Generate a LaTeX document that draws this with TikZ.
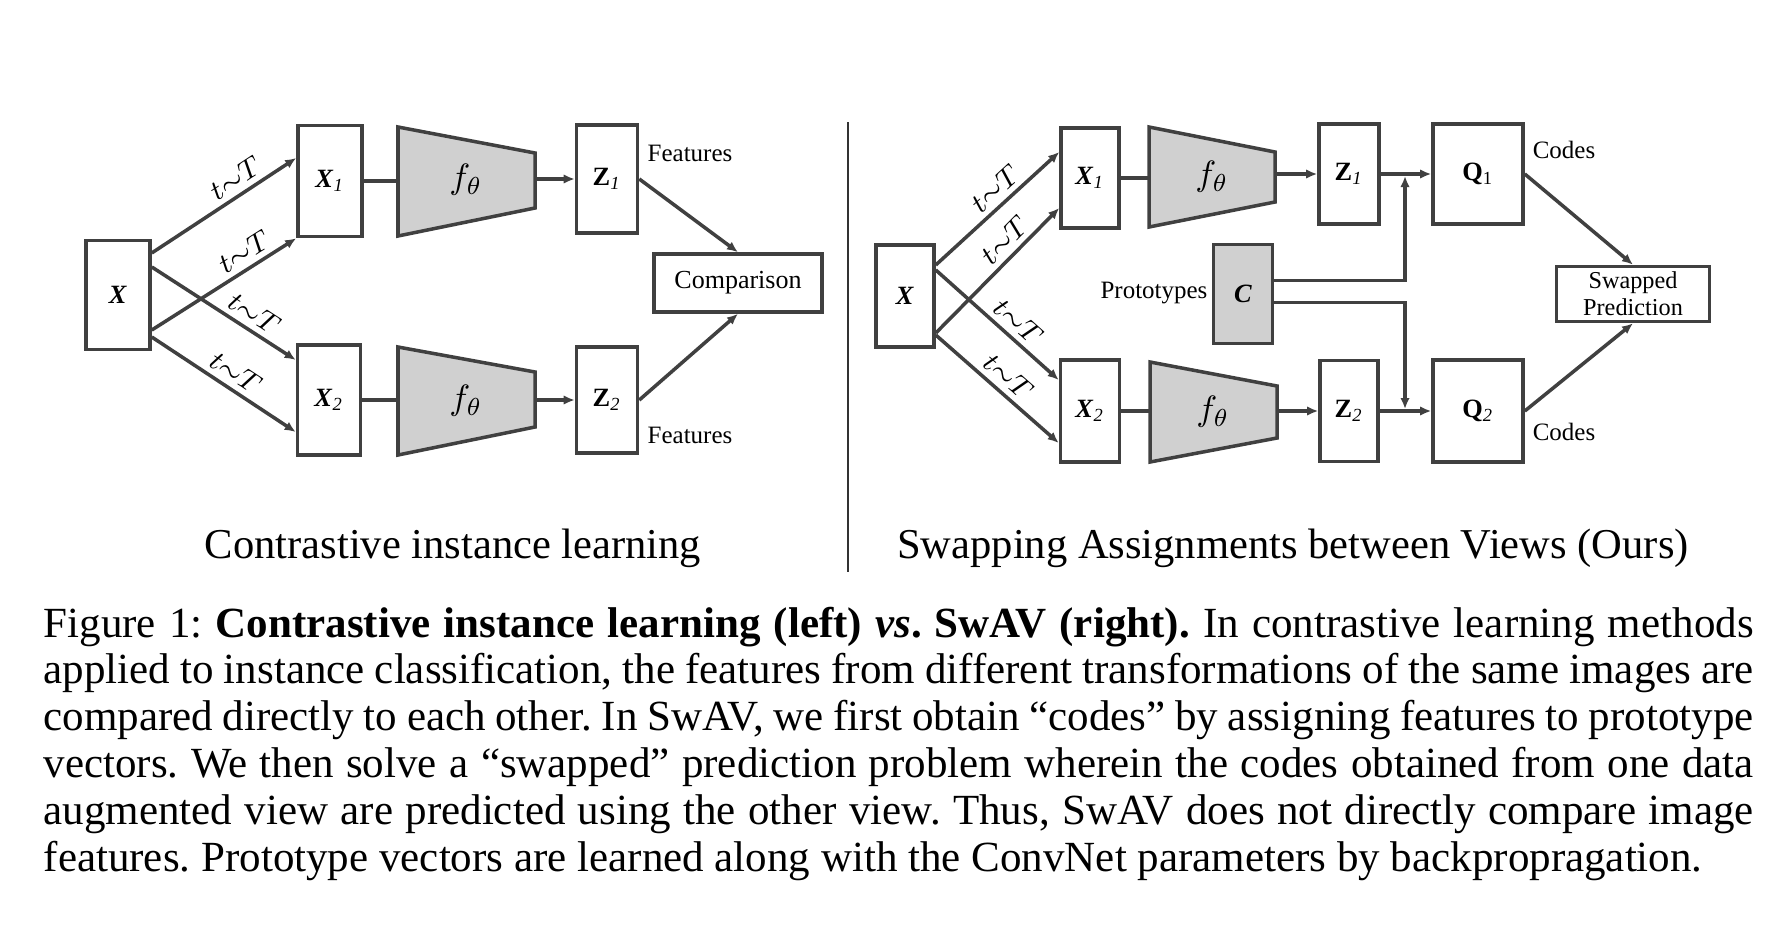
\documentclass[tikz,border=0pt]{standalone}
\usepackage{fontspec}
\setmainfont{Liberation Serif}
\usetikzlibrary{arrows.meta}
\definecolor{linegray}{HTML}{404040}
\definecolor{encgray}{HTML}{D0D0D0}
\newcommand{\bx}[2]{\textbf{\textit{#1}}\textsubscript{\textit{#2}}}
\newcommand{\bz}[2]{\textbf{#1}\textsubscript{\textit{#2}}}
\newcommand{\capline}[1]{\makebox[17.09cm][s]{#1}}
\frenchspacing

\begin{document}
\begin{tikzpicture}
        [
            x=0.01cm, y=-0.01cm,
            box/.style = {draw=linegray, line width=1pt, inner sep=0pt, fill=white, font=\fontsize{7.5}{9}\selectfont},
            enc/.style = {draw=linegray, line width=1pt, fill=encgray},
            lbl/.style = {font=\fontsize{7.1}{8.5}\selectfont, inner sep=0pt},
            trf/.style = {font=\fontsize{8}{9}\selectfont, sloped, above, inner sep=1.5pt},
            arr/.style = {draw=linegray, line width=1pt, -{Latex[length=1.1mm, width=0.95mm]}},
            con/.style = {draw=linegray, line width=1pt},
            title/.style = {font=\fontsize{12.1}{14}\selectfont, anchor=base, inner sep=0pt},
        ]
        \useasboundingbox (0,0) rectangle (1776,942);
        \node [box, minimum width=0.64cm, minimum height=1.09cm] (x) at (118,295) {\textbf{\textit{X}}};
        \node [box, minimum width=0.64cm, minimum height=1.11cm] (x1) at (330,181) {\bx{X}{1}};
        \node [box, minimum width=0.63cm, minimum height=1.10cm] (x2) at (329,400) {\bx{X}{2}};
        \draw [enc] (398,127) -- (535,153) -- (535,208) -- (398,236) -- cycle;
        \draw [enc] (398,347) -- (535,372) -- (535,427) -- (398,455) -- cycle;
        \node [minimum width=1.37cm, minimum height=1.09cm, inner sep=0pt, font=\fontsize{10}{12}\selectfont] (f1) at (466,180) {$f_\theta$};
        \node [minimum width=1.37cm, minimum height=1.08cm, inner sep=0pt, font=\fontsize{10}{12}\selectfont] (f2) at (466,401) {$f_\theta$};
        \node [box, minimum width=0.61cm, minimum height=1.08cm] (z1) at (607,179) {\bz{Z}{1}};
        \node [box, minimum width=0.61cm, minimum height=1.06cm] (z2) at (607,400) {\bz{Z}{2}};
        \node [box, minimum width=1.68cm, minimum height=0.58cm, font=\fontsize{7.4}{9}\selectfont] (comp) at (738,283) {Comparison};
        \node [lbl] (feat1) at (690,153) {Features};
        \node [lbl] (feat2) at (690,435) {Features};
        \draw [arr] ([yshift=4.2mm]x.east) -- node [trf, pos=0.64] {$t{\sim}T$} ([yshift=2.3mm]x1.west);
        \draw [arr] ([yshift=-3.5mm]x.east) -- node [trf, pos=0.7] {$t{\sim}T$} (x1.south west);
        \draw [arr] ([yshift=2.8mm]x.east) -- node [trf, pos=0.65] {$t{\sim}T$} ([yshift=4mm]x2.west);
        \draw [arr] ([yshift=-4.2mm]x.east) -- node [trf, pos=0.52] {$t{\sim}T$} ([yshift=-3.2mm]x2.west);
        \draw [con] (x1) -- (x1 -| f1.west);
        \draw [con] (x2) -- (x2 -| f2.west);
        \draw [arr] (f1.east |- z1) -- (z1);
        \draw [arr] (f2.east |- z2) -- (z2);
        \draw [arr] (z1.east) -- (comp.north);
        \draw [arr] (z2.east) -- (comp.south);
        \draw [black!80, line width=0.4pt] (848,122) -- (848,572);
        \node [box, minimum width=0.58cm, minimum height=1.02cm] (sx) at (905,296) {\textbf{\textit{X}}};
        \node [box, minimum width=0.58cm, minimum height=1.00cm] (sx1) at (1090,178) {\bx{X}{1}};
        \node [box, minimum width=0.59cm, minimum height=1.02cm] (sx2) at (1090,411) {\bx{X}{2}};
        \draw [enc] (1149,127) -- (1275,152) -- (1275,202) -- (1149,227) -- cycle;
        \draw [enc] (1150,362) -- (1277,386) -- (1277,438) -- (1150,462) -- cycle;
        \node [minimum width=1.26cm, minimum height=1.00cm, inner sep=0pt, font=\fontsize{10}{12}\selectfont] (sf1) at (1212,177) {$f_\theta$};
        \node [minimum width=1.27cm, minimum height=1.00cm, inner sep=0pt, font=\fontsize{10}{12}\selectfont] (sf2) at (1213,412) {$f_\theta$};
        \node [box, minimum width=0.60cm, minimum height=1.00cm] (sz1) at (1349,174) {\bz{Z}{1}};
        \node [box, minimum width=0.58cm, minimum height=1.01cm] (sz2) at (1349,411) {\bz{Z}{2}};
        \node [box, minimum width=0.90cm, minimum height=1.00cm] (q1) at (1478,174) {\textbf{Q}\textsubscript{1}};
        \node [box, minimum width=0.90cm, minimum height=1.02cm] (q2) at (1478,411) {\textbf{Q}\textsubscript{\textit{2}}};
        \node [box, fill=encgray, minimum width=0.59cm, minimum height=0.99cm] (c) at (1243,294) {\textbf{\textit{C}}};
        \node [box, minimum width=1.53cm, minimum height=0.55cm, align=center, font=\fontsize{6.9}{7.7}\selectfont] (swap) at (1633,294) {Swapped\\Prediction};
        \node [lbl] (proto) at (1154,293) {Prototypes};
        \node [lbl] (codes1) at (1564,150) {Codes};
        \node [lbl] (codes2) at (1564,432) {Codes};
        \coordinate (j1) at (1405,176);
        \coordinate (j2) at (1405,409);
        \draw [arr] ([yshift=3.1mm]sx.east) -- node [trf, pos=0.57] {$t{\sim}T$} ([yshift=2.6mm]sx1.west);
        \draw [arr] ([yshift=-3.7mm]sx.east) -- node [trf, pos=0.65] {$t{\sim}T$} ([yshift=-3mm]sx1.west);
        \draw [arr] ([yshift=2.6mm]sx.east) -- node [trf, pos=0.58] {$t{\sim}T$} ([yshift=3.1mm]sx2.west);
        \draw [arr] ([yshift=-3.9mm]sx.east) -- node [trf, pos=0.5] {$t{\sim}T$} ([yshift=-3.2mm]sx2.west);
        \draw [con] (sx1) -- (sx1 -| sf1.west);
        \draw [con] (sx2) -- (sx2 -| sf2.west);
        \draw [arr] (sf1.east |- sz1) -- (sz1);
        \draw [arr] (sf2.east |- sz2) -- (sz2);
        \draw [arr] (sz1) -- (q1);
        \draw [arr] (sz2) -- (q2);
        \draw [arr] ([yshift=1.35mm]c.east) -| (j1);
        \draw [arr] ([yshift=-0.85mm]c.east) -| (j2);
        \draw [arr] (q1.east) -- (swap.north);
        \draw [arr] (q2.east) -- (swap.south);
        \node [title] (title1) at (453,558) {Contrastive instance learning};
        \node [title] (title2) at (1293,558) {Swapping Assignments between Views (Ours)};
        \node [anchor=base west, align=left, inner sep=0pt, font=\fontsize{12.23}{13.3}\selectfont] (caption) at (43,871)
            {\capline{Figure 1: \textbf{Contrastive instance learning (left) \textit{vs}. SwAV (right).} In contrastive learning methods}\\
             \capline{applied to instance classification, the features from different transformations of the same images are}\\
             \capline{compared directly to each other. In SwAV, we first obtain “codes” by assigning features to prototype}\\
             \capline{vectors. We then solve a “swapped” prediction problem wherein the codes obtained from one data}\\
             \capline{augmented view are predicted using the other view. Thus, SwAV does not directly compare image}\\
             features. Prototype vectors are learned along with the ConvNet parameters by backpropragation.};
    \end{tikzpicture}
\end{document}
